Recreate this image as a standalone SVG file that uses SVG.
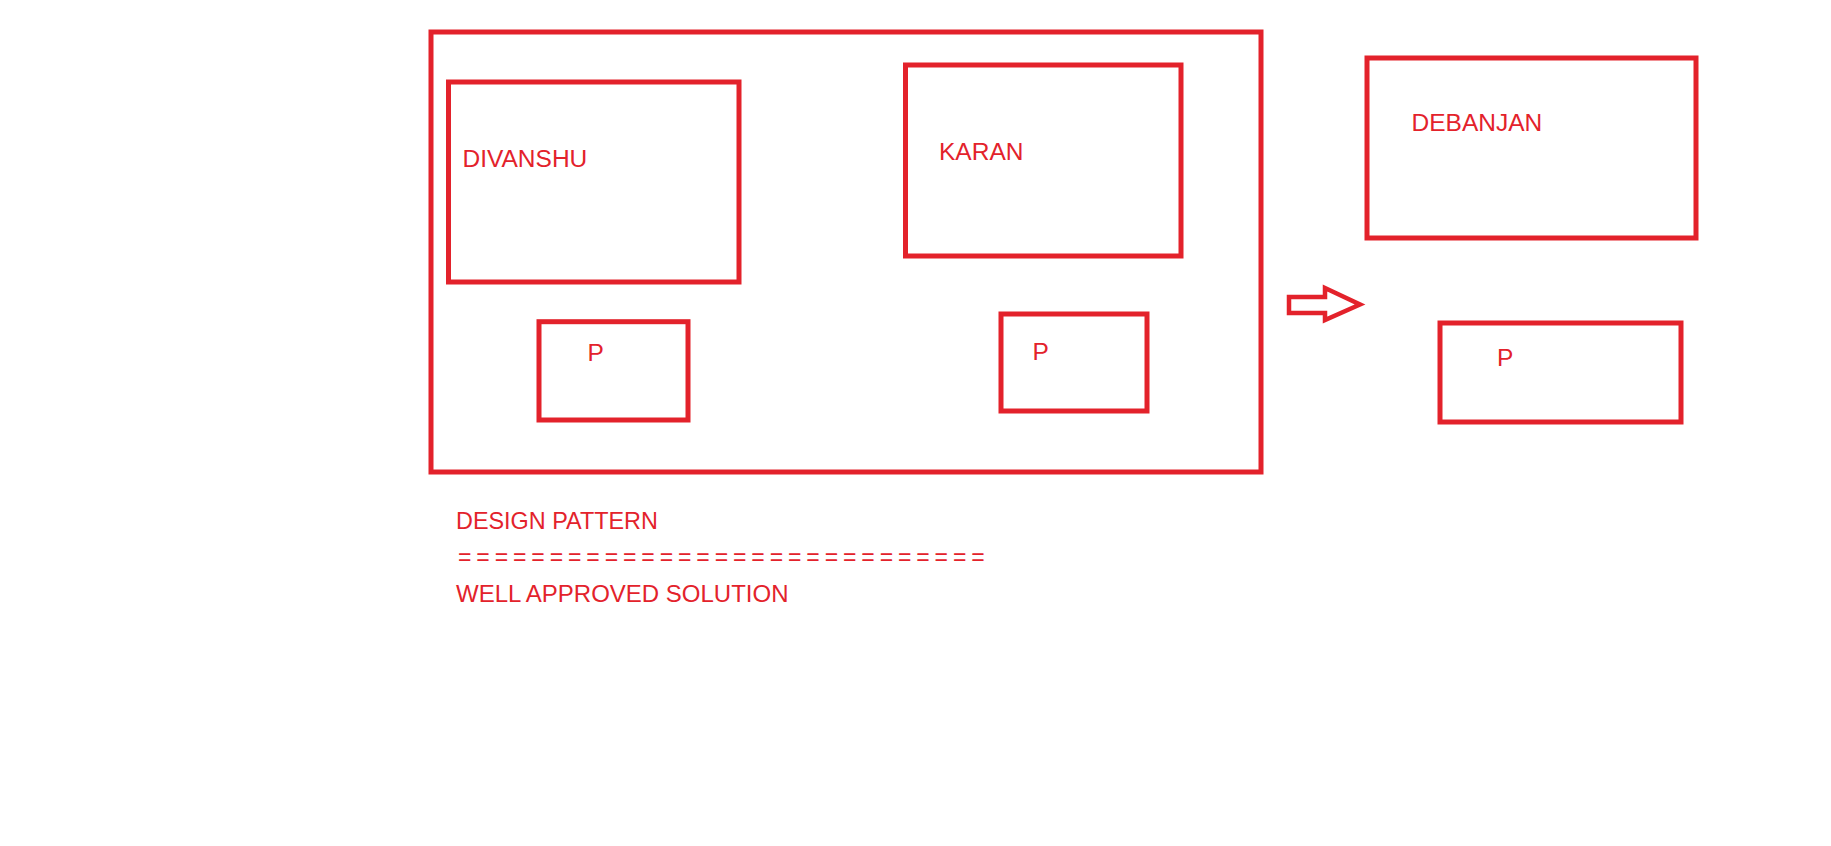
<svg xmlns="http://www.w3.org/2000/svg" width="1831" height="846" viewBox="0 0 1831 846">
<style>
.box{fill:none;stroke:#E3222B;stroke-width:5}
.lbl{fill:#E3222B;font-family:"Liberation Sans",Arial,sans-serif;font-size:24.5px}
.note{fill:#E3222B;font-family:"Liberation Sans",Arial,sans-serif;font-size:23.4px}
.arrow{fill:none;stroke:#E3222B;stroke-width:4.5;stroke-linejoin:miter}
</style>
<rect width="1831" height="846" fill="#ffffff"/>
<g id="outer-frame"><rect class="box" x="431" y="32" width="830" height="440"/></g>
<g id="node-divanshu"><rect class="box" x="448.5" y="82" width="290.5" height="200"/><text class="lbl" x="462.5" y="166.7">DIVANSHU</text></g>
<g id="node-karan"><rect class="box" x="905.5" y="65" width="275.5" height="191"/><text class="lbl" x="939" y="160">KARAN</text></g>
<g id="node-debanjan"><rect class="box" x="1367" y="58" width="329" height="180"/><text class="lbl" x="1411.5" y="130.7">DEBANJAN</text></g>
<g id="node-p1"><rect class="box" x="539" y="321.7" width="149" height="98.3"/><text class="lbl" x="587.5" y="361">P</text></g>
<g id="node-p2"><rect class="box" x="1001" y="314" width="146" height="97"/><text class="lbl" x="1032.5" y="360">P</text></g>
<g id="node-p3"><rect class="box" x="1440" y="323" width="241" height="99"/><text class="lbl" x="1497" y="366">P</text></g>
<g id="connectors"><path class="arrow" d="M1289,297 L1325,297 L1325,288 L1360,304.5 L1325,320 L1325,313 L1289,313 Z"/></g>
<g id="notes">
<text class="note" x="456" y="529.3">DESIGN PATTERN</text>
<text class="note" x="458" y="565" letter-spacing="4.9" style="font-size:23px">=============================</text>
<text class="note" x="456" y="601.7" style="font-size:24px">WELL APPROVED SOLUTION</text>
</g>
</svg>
